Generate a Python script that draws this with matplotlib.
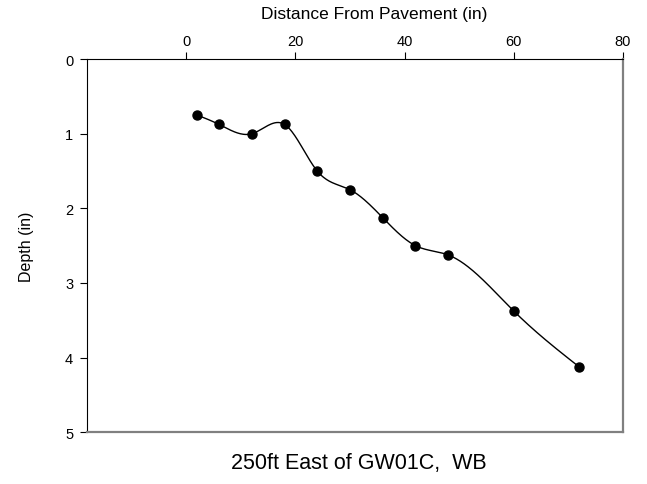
import numpy as np
import matplotlib
matplotlib.use("Agg")
import matplotlib.pyplot as plt
from matplotlib.transforms import blended_transform_factory

plt.rcParams["font.family"] = ["Liberation Sans", "DejaVu Sans"]

# data
distance = [2, 6, 12, 18, 24, 30, 36, 42, 48, 60, 72]
depth = [0.75, 0.875, 1.0, 0.875, 1.5, 1.75, 2.125, 2.5, 2.625, 3.375, 4.125]
x_ticks = [0, 20, 40, 60, 80]
y_ticks = [0, 1, 2, 3, 4, 5]


def natural_spline(x, y, n=400):
    """Natural cubic spline through the points, used only to draw the line."""
    x = np.asarray(x, float)
    y = np.asarray(y, float)
    k = len(x)
    h = np.diff(x)
    A = np.zeros((k, k))
    b = np.zeros(k)
    A[0, 0] = A[-1, -1] = 1
    for i in range(1, k - 1):
        A[i, i - 1] = h[i - 1]
        A[i, i] = 2 * (h[i - 1] + h[i])
        A[i, i + 1] = h[i]
        b[i] = 6 * ((y[i + 1] - y[i]) / h[i] - (y[i] - y[i - 1]) / h[i - 1])
    m = np.linalg.solve(A, b)
    xs = np.linspace(x[0], x[-1], n)
    idx = np.clip(np.searchsorted(x, xs) - 1, 0, k - 2)
    x0, x1 = x[idx], x[idx + 1]
    hh = x1 - x0
    t0, t1 = x1 - xs, xs - x0
    ys = (m[idx] * t0**3 + m[idx + 1] * t1**3) / (6 * hh) \
        + (y[idx] / hh - m[idx] * hh / 6) * t0 \
        + (y[idx + 1] / hh - m[idx + 1] * hh / 6) * t1
    return xs, ys


fig = plt.figure(figsize=(6.47, 4.85), dpi=100)
ax = fig.add_axes([0.1345, 0.107, 0.828, 0.769])

xs, ys = natural_spline(distance, depth)
ax.plot(xs, ys, color="black", linewidth=1)
ax.plot(distance, depth, "o", color="black", markersize=6.5)

ax.set_xlim(-18.2, 80)
ax.set_ylim(5, 0)
ax.set_xticks(x_ticks)
ax.set_yticks(y_ticks)

ax.xaxis.set_ticks_position("top")
ax.tick_params(axis="both", direction="out", length=5, width=0.8,
               labelsize=10.5, colors="black")
ax.tick_params(axis="x", pad=3)
ax.tick_params(axis="y", pad=5)
ax.set_ylabel("Depth (in)", fontsize=11.5, labelpad=22)

# top axis title sits a little right of the axes centre in the original
trans = blended_transform_factory(ax.transData, fig.transFigure)
ax.text(34.4, 1 - 15 / 485, "Distance From Pavement (in)", transform=trans,
        ha="center", va="center", fontsize=12.5)

ax.spines["top"].set_color("black")
ax.spines["left"].set_color("black")
ax.spines["right"].set_color("#808080")
ax.spines["bottom"].set_color("#808080")
ax.spines["right"].set_linewidth(1.6)
ax.spines["bottom"].set_linewidth(1.6)

fig.text(358.5 / 647, 1 - 463 / 485, "250ft East of GW01C,  WB",
         ha="center", va="center", fontsize=15.5)

fig.savefig("out.png", dpi=100)
